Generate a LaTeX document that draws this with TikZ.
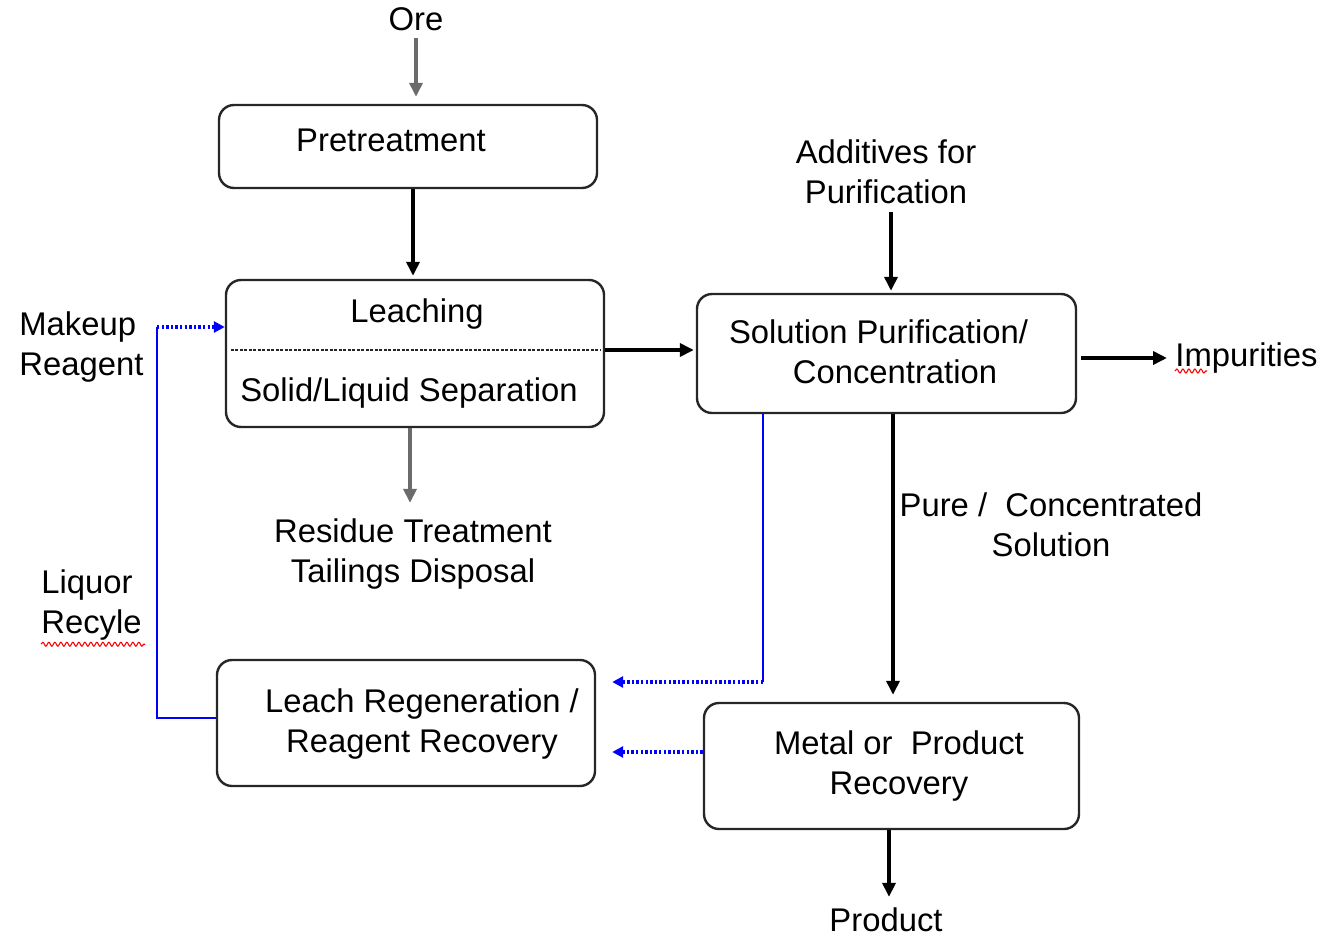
\documentclass[tikz,border=0pt]{standalone}
\usepackage{fontspec}
\setmainfont{Liberation Sans}
\usetikzlibrary{arrows.meta,decorations.pathmorphing}

\tikzset{
  box/.style={draw=black!85, line width=1.2pt, rounded corners=7.5pt, inner sep=0pt},
  txt/.style={anchor=base, align=center, inner sep=0pt},
  flow/.style={line width=1.9pt, -{Triangle[length=7pt,width=6.5pt]}},
  grayflow/.style={flow, draw=black!58, color=black!58, line width=2.2pt},
  recycle/.style={blue, line width=1pt},
  dots/.style={blue, line width=1.7pt, dash pattern=on 1.2pt off 1.1pt, -{Triangle[length=5.5pt,width=5.5pt]}},
  squiggle/.style={red, line width=0.55pt, decorate, decoration={snake, amplitude=1pt, segment length=3pt}},
}

\begin{document}
\begin{tikzpicture}[x=0.5pt, y=-0.5pt, font=\fontsize{16.4pt}{20pt}\selectfont]
  \useasboundingbox (0,0) rectangle (1322,937);

  % process boxes
  \node[box, minimum width=189pt, minimum height=41.5pt] (pre) at (408,146.5) {};
  \node[box, minimum width=189pt, minimum height=73.5pt] (leach) at (415,353.5) {};
  \node[box, minimum width=189.5pt, minimum height=59.5pt] (purif) at (886.5,353.5) {};
  \node[box, minimum width=189pt, minimum height=63pt] (regen) at (406,723) {};
  \node[box, minimum width=187.5pt, minimum height=63pt] (metal) at (891.5,766) {};

  % box texts (base = last line)
  \node[txt] (pretxt) at (391,151) {Pretreatment};
  \node[txt] (leachtxt) at (417,322) {Leaching};
  \node[txt] (septxt) at (409,401) {Solid/Liquid Separation};
  \node[txt] (puriftxt) at (878.5,383) {Solution Purification/\\\hspace*{16.5pt}Concentration};
  \node[txt] (regentxt) at (422,752) {Leach Regeneration /\\Reagent Recovery};
  \node[txt] (metaltxt) at (899,794) {Metal or\ \ Product\\Recovery};
  \draw[black!85, line width=0.8pt, dash pattern=on 1.5pt off 0.75pt, shorten <=3pt, shorten >=2pt]
    ([yshift=1.75pt]leach.west) -- ([yshift=1.75pt]leach.east);

  % streams in and out
  \node[txt] (ore) at (416,31) {Ore};
  \node[txt] (add) at (886,203) {Additives for\\Purification};
  \node[txt, anchor=base west] (imp) at (1175,366) {Impurities};
  \node[txt] (pure) at (1051,556) {Pure /\ \ Concentrated\\Solution};
  \node[txt] (res) at (413,582) {Residue Treatment\\Tailings Disposal};
  \node[txt, anchor=base west, align=left] (mk) at (19,375) {Makeup\\Reagent};
  \node[txt, anchor=base west, align=left] (liq) at (41,633) {Liquor\\Recyle};
  \node[txt] (prod) at (886,931) {Product};

  % main flow
  \draw[grayflow, shorten <=3.25pt, shorten >=3.5pt] (ore.south) -- (ore.south |- pre.north);
  \draw[flow, shorten >=1.5pt] ([xshift=2.5pt]pre.south) -- ([xshift=2.5pt]pre.south |- leach.north);
  \draw[flow, shorten >=1pt] ([yshift=1.75pt]leach.east) -- ([yshift=1.75pt]leach.east -| purif.west);
  \draw[flow, shorten <=4pt, shorten >=1pt] ([xshift=2.5pt]add.south) -- ([xshift=2.5pt]add.south |- purif.north);
  \draw[flow, shorten <=2pt, shorten >=4pt] ([yshift=-2.25pt]purif.east) -- ([yshift=-2.25pt]purif.east -| imp.west);
  \draw[flow, shorten >=3.5pt] ([xshift=3.25pt]purif.south) -- ([xshift=3.25pt]purif.south |- metal.north);
  \draw[grayflow, shorten >=7.5pt] ([xshift=-2.5pt]leach.south) -- ([xshift=-2.5pt]leach.south |- res.north);
  \draw[flow, shorten >=5pt] ([xshift=-1.25pt]metal.south) -- ([xshift=-1.25pt]metal.south |- prod.north);

  % recycle loops
  \coordinate (rc) at (157,327);
  \coordinate (pc) at (763,682);
  \draw[recycle] ([yshift=2.5pt]regen.west) -| (rc);
  \draw[dots] (rc) -- ([yshift=13.25pt]leach.west);
  \draw[recycle] (pc |- purif.south) -- (pc);
  \draw[dots, shorten >=8pt] (pc) -- (pc -| regen.east);
  \draw[dots, shorten >=8pt] ([yshift=7pt]metal.west) -- ([yshift=7pt]metal.west -| regen.east);

  % spelling marks
  \draw[squiggle] ([yshift=-2.5pt]imp.base west) -- ++(16pt,0);
  \draw[squiggle] ([yshift=-2pt]liq.south west) -- ++(52pt,0);
\end{tikzpicture}
\end{document}
